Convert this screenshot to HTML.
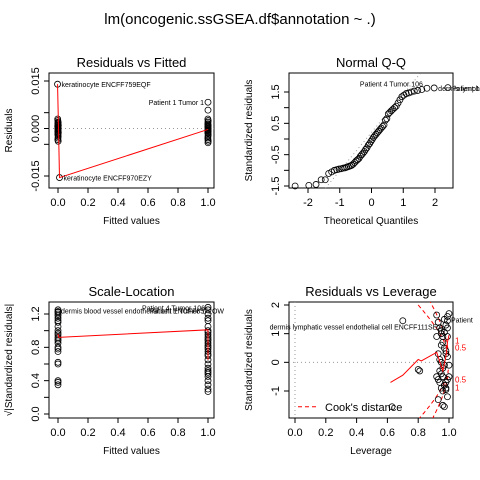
<!DOCTYPE html>
<html><head><meta charset="utf-8"><style>
body{margin:0;background:#fff;}
svg{display:block;font-family:"Liberation Sans",sans-serif;}
</style></head><body>
<svg id="c" width="480" height="480" viewBox="0 0 480 480"></svg>
<script>
// ---- data ----
const rvfFit0 = [-0.002,-0.001,0,0.001,-0.001,0,0.002,-0.002,0,0.001,-0.001,0,0.001,0,-0.001,0.002,0,-0.001,0,0.001,0,-0.001,0.001];
const rvfRes0 = [0.003,0.0025,0.002,0.0018,0.0015,0.0012,0.001,0.0008,0.0005,0.0003,0,-0.0002,-0.0005,-0.0008,-0.001,-0.0013,-0.0015,-0.0018,-0.002,-0.0025,-0.003,-0.0035,-0.004];
const rvfFit1 = [1.0,0.999,1.001,1.0,0.999,1.001,1.0,0.999,1.0,1.001,1.0,0.999,1.001,1.0,0.999,1.0,1.001,1.0,0.999,1.0,1.001,1.0,0.999];
const rvfRes1 = [0.0058,0.003,0.0025,0.002,0.0015,0.001,0.0008,0.0005,0.0002,0,-0.0003,-0.0005,-0.0008,-0.001,-0.0013,-0.0015,-0.002,-0.0025,-0.003,-0.0035,-0.004,-0.0045,0.0012];
const rvfOutFit = [-0.003,0.01,1.0];
const rvfOutRes = [0.014,-0.0155,0.0083];
const rvfOutLab = ["keratinocyte ENCFF759EQF","keratinocyte ENCFF970EZY","Patient 1 Tumor 1"];
const rvfSmoothX = [-0.003,0.003,0.01,1.0];
const rvfSmoothY = [0.014,0.001,-0.0155,-0.0003];
const qqRes = [-1.5,-1.48,-1.45,-1.3,-1.3,-1.1,-1.05,-1.0,-0.98,-0.96,-0.95,-0.93,-0.92,-0.9,-0.88,-0.86,-0.84,-0.8,-0.75,-0.7,-0.66,-0.62,-0.55,-0.5,-0.45,-0.4,-0.33,-0.28,-0.2,-0.15,-0.08,-0.02,0.05,0.1,0.15,0.2,0.25,0.3,0.35,0.4,0.45,0.6,0.65,0.8,0.85,0.9,0.95,1.0,1.05,1.15,1.25,1.35,1.4,1.45,1.47,1.5,1.53,1.55,1.58,1.62,1.63,1.64];
const slFit0 = [0,0,0,0,0,0,0,0,0,0,0,0,0,0,0,0,0,0,0,0,0,0,0,0];
const slVal0 = [1.25,1.23,1.2,1.18,1.15,1.12,1.1,1.05,1.0,0.97,0.95,0.92,0.9,0.88,0.85,0.8,0.78,0.75,0.62,0.6,0.4,0.38,0.35,1.22];
const slFit1 = [1,1,1,1,1,1,1,1,1,1,1,1,1,1,1,1,1,1,1,1,1,1,1,1,1,1,1,1,1,1];
const slVal1 = [1.28,1.25,1.2,1.15,1.12,1.05,1.0,0.98,0.95,0.92,0.9,0.88,0.85,0.82,0.8,0.78,0.75,0.72,0.7,0.65,0.6,0.55,0.52,0.5,0.48,0.45,0.4,0.35,0.3,0.27];
const slSmoothX = [0,0.005,1.0,1.0];
const slSmoothY = [0.96,0.92,1.01,0.65];
const rvlLev = [0.92,0.93,0.94,0.95,0.96,0.97,0.98,0.99,1.0,0.95,0.96,0.97,0.98,0.99,0.93,0.94,0.95,0.96,0.97,0.98,0.99,1.0,0.92,0.93,0.94,0.95,0.96,0.97,0.98,0.99,0.95,0.96,0.97,0.98,0.99,1.0,0.93,0.94,0.96,0.97,0.98,0.99,0.92,0.95,0.97,0.99,0.7,0.63,0.8,0.81];
const rvlRes = [1.65,1.4,1.2,1.0,0.9,1.5,1.3,1.6,1.7,0.6,0.7,0.5,0.4,0.9,0.3,0.1,0.0,-0.2,-0.1,0.3,0.2,-0.1,-0.5,-0.6,-0.3,-0.4,-0.5,-0.8,-0.7,-0.6,-0.9,-1.0,-0.8,-0.9,-1.2,-0.5,-1.3,-0.7,-1.5,-1.55,-0.95,1.2,0.9,1.1,1.05,1.45,1.45,-1.55,-0.25,-0.3];
const rvlSmoothX = [0.62,0.7,0.8,0.82,0.92,0.96,0.98,0.99,1.0];
const rvlSmoothY = [-0.7,-0.45,0.1,0.05,0.35,-0.3,0.2,0.7,0.95];

// ---- drawing ----
const svg=document.getElementById('c');
const NS='http://www.w3.org/2000/svg';
function el(tag,attrs,parent,text){const e=document.createElementNS(NS,tag);for(const k in attrs)e.setAttribute(k,attrs[k]);if(text!==undefined)e.textContent=text;(parent||svg).appendChild(e);return e;}

function panel(name,box,xr,yr,xt,yt,title,xlab,ylab){
  const g=el('g',{},svg);
  
  
  const sx=v=>box.x0+(v-xr[0])/(xr[1]-xr[0])*(box.x1-box.x0);
  const sy=v=>box.y1-(v-yr[0])/(yr[1]-yr[0])*(box.y1-box.y0);
  const fr=el('rect',{x:box.bx0,y:box.by0,width:box.bx1-box.bx0,height:box.by1-box.by0,fill:'none',stroke:'#000','stroke-width':1},g);
  
  const xa=el('g',{},g);
  el('line',{x1:sx(xt[0]),x2:sx(xt[xt.length-1]),y1:box.by1,y2:box.by1,stroke:'#000'},xa);
  xt.forEach(t=>{el('line',{x1:sx(t),x2:sx(t),y1:box.by1,y2:box.by1+5,stroke:'#000'},xa);
    el('text',{x:sx(t),y:box.by1+18,'font-size':11,'text-anchor':'middle'},xa,t.toFixed(Number.isInteger(t)&&xt.some(v=>!Number.isInteger(v))?1:(Number.isInteger(t)?0:1)));});
  const ya=el('g',{},g);
  el('line',{y1:sy(yt[0].v),y2:sy(yt[yt.length-1].v),x1:box.bx0,x2:box.bx0,stroke:'#000'},ya);
  yt.forEach(t=>{el('line',{y1:sy(t.v),y2:sy(t.v),x1:box.bx0,x2:box.bx0-5,stroke:'#000'},ya);
    el('text',{x:0,y:0,'font-size':11,'text-anchor':'middle',transform:`translate(${box.bx0-10},${sy(t.v)}) rotate(-90)`},ya,t.l);});
  const tt=el('text',{x:(box.bx0+box.bx1)/2,y:box.by0-6,'font-size':13,'text-anchor':'middle'},g,title);
  
  const xl=el('text',{x:(box.bx0+box.bx1)/2,y:box.by1+36,'font-size':10,'text-anchor':'middle'},g,xlab);
  
  const yl=el('text',{x:0,y:0,'font-size':10,'text-anchor':'middle',transform:`translate(${box.bx0-37},${(box.by0+box.by1)/2}) rotate(-90)`},g,ylab);
  
  return {g,sx,sy};
}
function pts(p,xs,ys,name){xs.forEach((x,i)=>{const c=el('circle',{cx:p.sx(x),cy:p.sy(ys[i]),r:3,fill:'none',stroke:'#000','stroke-width':0.8},p.g);
  });}
function line(p,xs,ys,name,extra){const l=el('polyline',Object.assign({points:xs.map((x,i)=>p.sx(x)+','+p.sy(ys[i])).join(' '),fill:'none',stroke:'#f00','stroke-width':1},extra||{}),p.g);
  return l;}

const mt=el('text',{x:240,y:24,'font-size':15,'text-anchor':'middle'},svg,'lm(oncogenic.ssGSEA.df$annotation ~ .)');


// Panel 1
const b1={x0:58,x1:208,y0:81,y1:176,bx0:49,bx1:214,by0:73,by1:188};
const p1=panel('residuals-vs-fitted',b1,[0,1],[-0.015,0.015],[0,0.2,0.4,0.6,0.8,1.0],
 [{v:-0.015,l:'-0.015'},{v:-0.005,l:''},{v:0.005,l:''},{v:0.015,l:'0.015'}],
 'Residuals vs Fitted','Fitted values','Residuals');
el('text',{x:0,y:0,'font-size':11,'text-anchor':'middle',transform:`translate(39,${p1.sy(0)}) rotate(-90)`},p1.g,'0.000');
el('line',{x1:44,x2:49,y1:p1.sy(0),y2:p1.sy(0),stroke:'#000'},p1.g);
el('line',{x1:49,x2:214,y1:p1.sy(0),y2:p1.sy(0),stroke:'#999','stroke-dasharray':'1,3'},p1.g);
pts(p1,rvfFit0,rvfRes0,'point-fitted-0');pts(p1,rvfFit1,rvfRes1,'point-fitted-1');pts(p1,rvfOutFit,rvfOutRes,'outlier-point');
line(p1,rvfSmoothX,rvfSmoothY,'smooth-line');
rvfOutLab.forEach((s,i)=>{const anchor=i==2?'end':'start';const dx=i==2?-4:4;
 const t=el('text',{x:p1.sx(rvfOutFit[i])+dx,y:p1.sy(rvfOutRes[i])+3,'font-size':7,'text-anchor':anchor},p1.g,s);
 });

// Panel 2
const p2=panel('normal-qq',{x0:308,x1:435,y0:92,y1:186,bx0:289,bx1:453,by0:73,by1:188},[-2,2],[-1.5,1.5],[-2,-1,0,1,2],
 [{v:-1.5,l:'-1.5'},{v:-1,l:''},{v:-0.5,l:'-0.5'},{v:0,l:''},{v:0.5,l:'0.5'},{v:1,l:''},{v:1.5,l:'1.5'}],
 'Normal Q-Q','Theoretical Quantiles','Standardized residuals');
function qnorm(p){
 const a=[-39.69683028665376,220.9460984245205,-275.9285104469687,138.357751867269,-30.66479806614716,2.506628277459239],
 b=[-54.47609879822406,161.5858368580409,-155.6989798598866,66.80131188771972,-13.28068155288572],
 c=[-0.007784894002430293,-0.3223964580411365,-2.400758277161838,-2.549732539343734,4.374664141464968,2.938163982698783],
 d=[0.007784695709041462,0.3224671290700398,2.445134137142996,3.754408661907416];
 const pl=0.02425;let q,r;
 if(p<pl){q=Math.sqrt(-2*Math.log(p));return (((((c[0]*q+c[1])*q+c[2])*q+c[3])*q+c[4])*q+c[5])/((((d[0]*q+d[1])*q+d[2])*q+d[3])*q+1);}
 if(p>1-pl){q=Math.sqrt(-2*Math.log(1-p));return -(((((c[0]*q+c[1])*q+c[2])*q+c[3])*q+c[4])*q+c[5])/((((d[0]*q+d[1])*q+d[2])*q+d[3])*q+1);}
 q=p-0.5;r=q*q;return (((((a[0]*r+a[1])*r+a[2])*r+a[3])*r+a[4])*r+a[5])*q/(((((b[0]*r+b[1])*r+b[2])*r+b[3])*r+b[4])*r+1);}
const sorted=qqRes.slice().sort((a,b)=>a-b);const n=sorted.length;
const qx=sorted.map((_,i)=>qnorm((i+1-0.5)/n));
const ql=el('line',{x1:p2.sx(-1.45),y1:188,x2:p2.sx(1.55),y2:73,stroke:'#999','stroke-dasharray':'1,3'},p2.g);

pts(p2,qx,sorted,'qq-point');
[['Patient 4 Tumor 106',p2.sx(qx[n-3])-4,'end'],['Patient 1 Tumor 1',p2.sx(qx[n-1])+4,'start'],['dermis lymph',p2.sx(qx[n-2])+4,'start']].forEach((d,i)=>{
 const t=el('text',{x:d[1],y:p2.sy(sorted[n-1-i])+(i==0?-1:3),'font-size':7,'text-anchor':d[2]},p2.g,d[0]);
 });

// Panel 3
const p3=panel('scale-location',{x0:58,x1:208,y0:314,y1:414,bx0:49,bx1:214,by0:302,by1:418},[0,1],[0,1.2],[0,0.2,0.4,0.6,0.8,1.0],
 [{v:0,l:'0.0'},{v:0.4,l:'0.4'},{v:0.8,l:'0.8'},{v:1.2,l:'1.2'}],'Scale-Location','Fitted values','√|Standardized residuals|');
[0.2,0.6,1.0].forEach(v=>el('line',{x1:44,x2:49,y1:p3.sy(v),y2:p3.sy(v),stroke:'#000'},p3.g));
pts(p3,slFit0,slVal0,'sl-point-0');pts(p3,slFit1,slVal1,'sl-point-1');
line(p3,slSmoothX,slSmoothY,'sl-smooth-line');
[['dermis blood vessel endothelial cell ENCFF857LOW',p3.sx(0)+3,'start',1.24],['Patient 4 Tumor 106',p3.sx(1)-3,'end',1.28],['Patient 1 Tumor 1',p3.sx(1)-3,'end',1.24]].forEach(d=>{
 const t=el('text',{x:d[1],y:p3.sy(d[3])+3,'font-size':7,'text-anchor':d[2]},p3.g,d[0]);
 });

// Panel 4
const p4=panel('residuals-vs-leverage',{x0:295,x1:449,y0:305,y1:391,bx0:289,bx1:453,by0:302,by1:418},[0,1],[-1,2],[0,0.2,0.4,0.6,0.8,1.0],
 [{v:-1,l:'-1'},{v:0,l:'0'},{v:1,l:'1'},{v:2,l:'2'}],'Residuals vs Leverage','Leverage','Standardized residuals');
el('line',{x1:289,x2:453,y1:p4.sy(0),y2:p4.sy(0),stroke:'#999','stroke-dasharray':'1,3'},p4.g);
el('line',{x1:p4.sx(0),x2:p4.sx(0),y1:302,y2:418,stroke:'#999','stroke-dasharray':'1,3'},p4.g);
const cp=el('clipPath',{id:'clip4'},svg);el('rect',{x:289,y:302,width:164,height:116},cp);
const cg=el('g',{'clip-path':'url(#clip4)'},p4.g);

[0.5,1].forEach(lv=>[1,-1].forEach(sg=>{const hs=[],ys=[];for(let h=0.8;h<=1.0001;h+=0.004){hs.push(h);ys.push(sg*Math.sqrt(lv*32*(1-h)/Math.max(h,1e-6)));}
 el('polyline',{points:hs.map((h,i)=>p4.sx(h)+','+p4.sy(ys[i])).join(' '),fill:'none',stroke:'#f00','stroke-dasharray':'4,3'},cg);}));
pts(p4,rvlLev,rvlRes,'leverage-point');
line(p4,rvlSmoothX,rvlSmoothY,'leverage-smooth-line');
[['1',0.77],['0.5',0.52],['0.5',-0.6],['1',-0.87]].forEach(d=>{const t=el('text',{x:455,y:p4.sy(d[1])+3,'font-size':8,fill:'#f00'},p4.g,d[0]);
 });
const ll=el('text',{x:p4.sx(0.955),y:p4.sy(1.25)+3,'font-size':7,'text-anchor':'end'},p4.g,'dermis lymphatic vessel endothelial cell ENCFF111SEX');

const ll2=el('text',{x:p4.sx(1.0)+2,y:p4.sy(1.5)+3,'font-size':7},p4.g,'Patient');

const lg=el('g',{},p4.g);
el('line',{x1:298,x2:318,y1:p4.sy(-1.55),y2:p4.sy(-1.55),stroke:'#f00','stroke-dasharray':'4,3'},lg);
el('text',{x:325,y:p4.sy(-1.55)+4,'font-size':11},lg,"Cook's distance");
</script>
</body></html>
